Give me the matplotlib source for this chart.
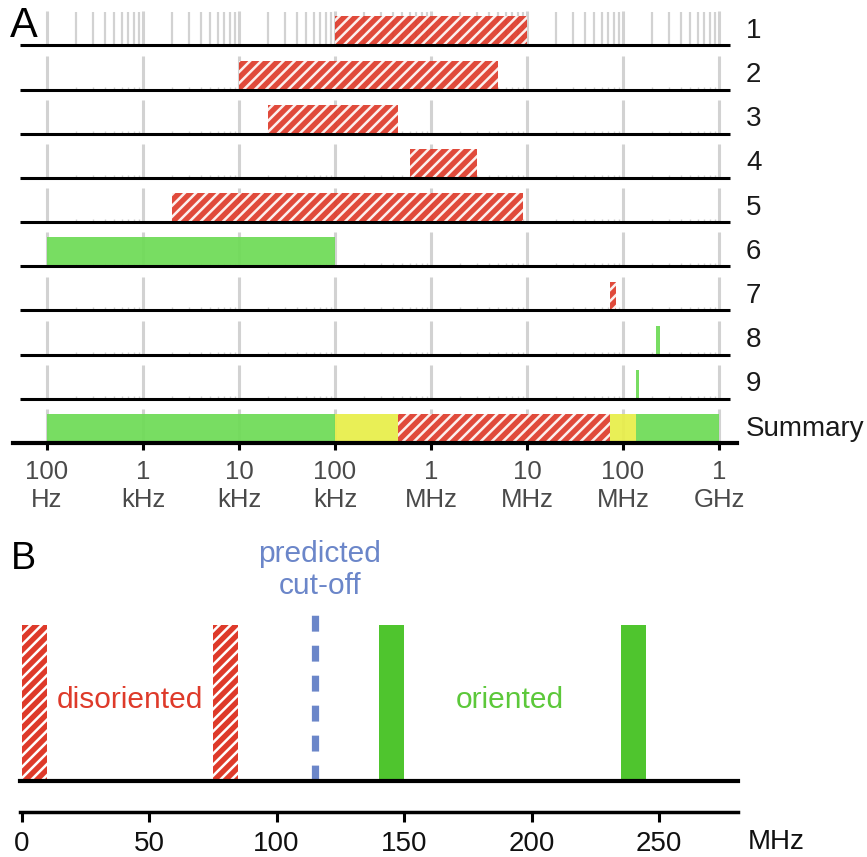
import numpy as np
import matplotlib
matplotlib.use("Agg")
import matplotlib.pyplot as plt

plt.rcParams['font.family'] = ['Liberation Sans', 'DejaVu Sans']
plt.rcParams['hatch.linewidth'] = 1.8

# ---- data ----
ROW_LABELS = ['1', '2', '3', '4', '5', '6', '7', '8', '9', 'Summary']
RANGE_ROW = [0, 1, 2, 3, 4, 5, 6, 7, 8]
RANGE_LO = [1e5, 1e4, 2e4, 6e5, 2e3, 1e2, 74e6, 222e6, 135e6]
RANGE_HI = [1e7, 5e6, 4.5e5, 3e6, 9e6, 1e5, 84e6, 243e6, 148e6]
RANGE_KIND = ['bad', 'bad', 'bad', 'bad', 'bad', 'good', 'bad', 'good', 'good']

SUM_LO = [1e2, 1e5, 4.5e5, 74e6, 135e6]
SUM_HI = [1e5, 4.5e5, 74e6, 135e6, 1e9]
SUM_KIND = ['good', 'mixed', 'bad', 'mixed', 'good']

DECADES = [1e2, 1e3, 1e4, 1e5, 1e6, 1e7, 1e8, 1e9]
DECADE_LABELS = ['100\nHz', '1\nkHz', '10\nkHz', '100\nkHz', '1\nMHz', '10\nMHz', '100\nMHz', '1\nGHz']

B_LO = [0, 75, 140, 235]
B_HI = [10, 85, 150, 245]
B_KIND = ['bad', 'bad', 'good', 'good']
CUTOFF = 115
B_TICKS = [0, 50, 100, 150, 200, 250]

RED = '#DE3A2A'
GREEN_A = '#6DDB55'
GREEN_B = '#4FC52E'
YELLOW = '#E8EE48'
BLUE = '#6B86C9'
GRAY = '#D2D2D2'
NARROW = ['Liberation Sans Narrow', 'Liberation Sans', 'DejaVu Sans']

W, H = 867, 857
fig = plt.figure(figsize=(W / 100, H / 100), dpi=100)
fig.patch.set_facecolor('white')


def px_axes(left, top, right, bottom):
    return fig.add_axes([left / W, 1 - bottom / H, (right - left) / W, (bottom - top) / H])


# ---------------- panel A ----------------
PXDEC = 96.0
X0 = 47.0  # pixel of 100 Hz
axA = px_axes(13, 0, 737, 443)
axA.set_xscale('log')
axA.set_xlim(10 ** (2 + (13 - X0) / PXDEC), 10 ** (2 + (737 - X0) / PXDEC))
ROWPX = 44.2
ytop = 45.5 / ROWPX
axA.set_ylim(-9, ytop)
bh = 29 / ROWPX
gh = 34 / ROWPX

minors = [m * d for d in DECADES[:-1] for m in range(2, 10)]
for i in range(len(ROW_LABELS)):
    base = -i
    axA.vlines(DECADES, base, base + gh, color=GRAY, lw=2.2, zorder=1)
    if i == 0:
        axA.vlines(minors, base, base + gh - 0.02, color=GRAY, lw=1.6, zorder=1)
    elif i < 9:
        axA.vlines(minors, base, base + 0.07, color=GRAY, lw=1.0, zorder=1)
    if i < 9:
        axA.hlines(base, 10 ** (2 - 27 / PXDEC), 10 ** (2 + 683 / PXDEC),
                   color='black', lw=2.2, zorder=5)
    axA.text(1.0125, (base + bh / 2 + 9) / (9 + ytop), ROW_LABELS[i],
             transform=axA.transAxes, fontsize=20, ha='left', va='center',
             color='#1a1a1a', clip_on=False)


def draw_range(ax, y, lo, hi, kind, h, green):
    if kind == 'bad':
        ax.barh(y, hi - lo, left=lo, height=h, align='edge', facecolor=RED,
                edgecolor='white', hatch='///', lw=0, alpha=0.92, zorder=3)
    elif kind == 'good':
        ax.barh(y, hi - lo, left=lo, height=h, align='edge', facecolor=green,
                lw=0, alpha=0.92, zorder=3)
    else:
        ax.barh(y, hi - lo, left=lo, height=h, align='edge', facecolor=YELLOW,
                lw=0, alpha=0.92, zorder=3)


for r, lo, hi, k in zip(RANGE_ROW, RANGE_LO, RANGE_HI, RANGE_KIND):
    draw_range(axA, -r, lo, hi, k, bh, GREEN_A)
for lo, hi, k in zip(SUM_LO, SUM_HI, SUM_KIND):
    draw_range(axA, -9, lo, hi, k, bh, GREEN_A)

for s in ['top', 'right', 'left']:
    axA.spines[s].set_visible(False)
axA.spines['bottom'].set_linewidth(3)
axA.spines['bottom'].set_zorder(6)
axA.set_yticks([])
axA.set_xticks(DECADES)
axA.set_xticklabels(DECADE_LABELS, fontsize=18.5, color='#4a4a4a', linespacing=1.22)
axA.xaxis.set_minor_locator(matplotlib.ticker.NullLocator())
axA.tick_params(axis='x', length=5, width=2.2, pad=7, direction='out')
axA.patch.set_alpha(0)

fig.text(10 / W, 1 - 6 / H, 'A', fontsize=30, ha='left', va='top', family=NARROW)

# ---------------- panel B ----------------
PXMHZ = 2.55
B0 = 21.5
xl = ((20 - B0) / PXMHZ, (738 - B0) / PXMHZ)
axB = px_axes(20, 540, 738, 781)
axB.set_xlim(*xl)
axB.set_ylim(0, 241 / 156)
for lo, hi, k in zip(B_LO, B_HI, B_KIND):
    if k == 'bad':
        axB.bar(lo, 1.0, width=hi - lo, align='edge', facecolor=RED,
                edgecolor='white', hatch='///', lw=0, zorder=3)
    else:
        axB.bar(lo, 1.0, width=hi - lo, align='edge', facecolor=GREEN_B,
                lw=0, zorder=3)
axB.plot([CUTOFF, CUTOFF], [0, 1.096], color=BLUE, lw=5.2,
         dashes=(2.2, 1.95), solid_capstyle='butt', dash_capstyle='butt', zorder=2)
axB.text(117, 1.353, 'predicted\ncut-off', color=BLUE, fontsize=21.5,
         ha='center', va='center', linespacing=1.15)
axB.text(42.5, 0.52, 'disoriented', color=RED, fontsize=21.5, ha='center', va='center')
axB.text(191.5, 0.52, 'oriented', color='#5CC83A', fontsize=21.5, ha='center', va='center')
for s in ['top', 'right', 'left']:
    axB.spines[s].set_visible(False)
axB.spines['bottom'].set_linewidth(3)
axB.spines['bottom'].set_zorder(6)
axB.set_xticks([])
axB.set_yticks([])
axB.patch.set_alpha(0)

axT = px_axes(20, 811, 738, 812)
axT.set_xlim(*xl)
for s in ['top', 'right', 'left']:
    axT.spines[s].set_visible(False)
axT.spines['bottom'].set_linewidth(2.5)
axT.set_yticks([])
axT.set_xticks(B_TICKS)
axT.set_xticklabels([str(t) for t in B_TICKS], fontsize=20, color='#111111')
axT.tick_params(axis='x', length=7.5, width=2.2, pad=6)
axT.patch.set_alpha(0)

fig.text(748 / W, 1 - 842 / H, 'MHz', fontsize=20, ha='left', va='center', color='#111111')
fig.text(11 / W, 1 - 541 / H, 'B', fontsize=27, ha='left', va='top', family=NARROW)

fig.savefig('out.png', dpi=100, facecolor='white')
